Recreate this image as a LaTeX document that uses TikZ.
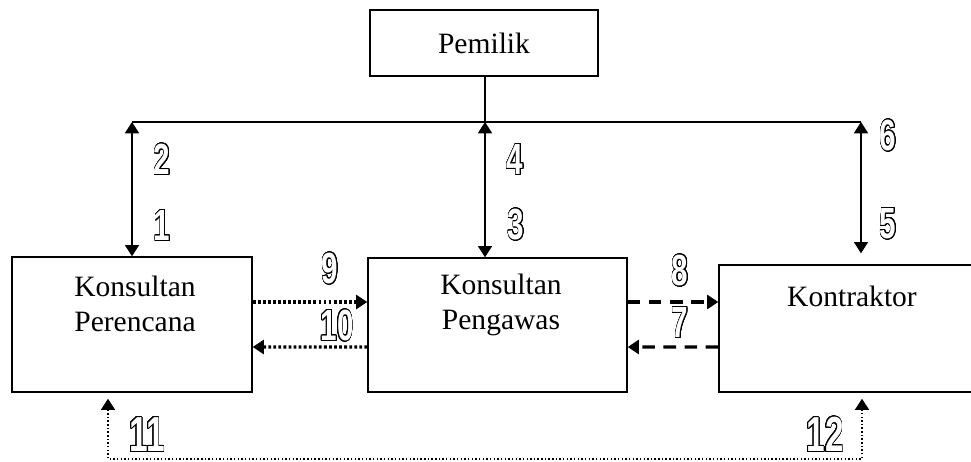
\documentclass[tikz,border=0pt]{standalone}
\usepackage{fontspec}
\setmainfont{Liberation Serif}
\newfontfamily\numfont{Liberation Sans}
\usepackage[copies]{contour}
\contourlength{0.75pt}
\contournumber{24}
\usetikzlibrary{arrows.meta,positioning,calc}

\begin{document}
\begin{tikzpicture}[x=0.025cm, y=-0.025cm, every node/.style={font=\fontsize{21}{25}\selectfont}]
\tikzset{box/.style={draw, line width=1pt, inner sep=0pt}}
\tikzset{num/.style={text=white, font=\numfont\bfseries\fontsize{31}{31}\selectfont, xscale=0.68}}
\tikzset{bignum/.style={num, font=\numfont\bfseries\fontsize{35}{35}\selectfont}}
\tikzset{wire/.style={line width=1pt}}
\tikzset{dbl/.style={wire, {Triangle[width=10pt,length=8pt]}-{Triangle[width=10pt,length=8pt]}}}
\tikzset{dotline/.style={line width=2.2pt, dash pattern=on 2pt off 1.6pt, -{Triangle[width=10pt,length=8pt]}}}
\tikzset{dashline/.style={line width=2.4pt, dash pattern=on 9pt off 6pt, -{Triangle[width=10pt,length=8pt]}}}
\tikzset{fineline/.style={line width=1.3pt, dash pattern=on 1pt off 1.6pt, {Triangle[width=10pt,length=8pt]}-{Triangle[width=10pt,length=8pt]}}}
\useasboundingbox (0,0) rectangle (971,461);
% boxes
\node[box, minimum width=5.7cm, minimum height=1.65cm] (pm) at (484,43) {Pemilik};
\node[box, minimum width=6.0cm, minimum height=3.375cm] (per) at (132,324.5) {};
\node[box, minimum width=6.475cm, minimum height=3.35cm] (pen) at (497.5,325) {};
\node[box, minimum width=6.65cm, minimum height=3.175cm] (kon) at (852,328.5) {};
\node[align=center] (perT) at (135,304) {Konsultan\\Perencana};
\node[align=center] (penT) at (501,305) {Konsultan\\Pengawas};
\node (konT) at (852,296) {Kontraktor};
% top lines
\coordinate (jl) at (132,122);
\coordinate (jm) at (485,122);
\coordinate (jr) at (861,122);
\draw[wire] (jm |- pm.south) -- (jm);
\draw[wire] (jl) -- (jr);
\draw[dbl] (jl) -- (jl |- per.north);
\draw[dbl] (jm) -- (jm |- pen.north);
\draw[dbl, shorten >=11*0.025cm] (jr) -- (jr |- kon.north);
% side arrows
\draw[dotline] ($(per.east)+(0,-22.5)$) -- ($(pen.west)+(0,-23)$);
\draw[dotline] ($(pen.west)+(0,22)$) -- ($(per.east)+(0,22.5)$);
\draw[dashline] ($(pen.east)+(0,-23)$) -- ($(kon.west)+(0,-26.5)$);
\draw[dashline] ($(kon.west)+(0,18.5)$) -- ($(pen.east)+(0,22)$);
% bottom loop
\coordinate (bl) at (108,459);
\coordinate (br) at (862,459);
\draw[fineline] ($(bl |- per.south)+(0,6)$) -- (bl) -- (br) -- ($(br |- kon.south)+(0,6)$);
% numbers
\node[num] (n1) at (162,226) {\contour{black}{1}};
\node[num] (n2) at (162,160) {\contour{black}{2}};
\node[num] (n3) at (516,225) {\contour{black}{3}};
\node[num] (n4) at (515,160) {\contour{black}{4}};
\node[num] (n5) at (888,224) {\contour{black}{5}};
\node[num] (n6) at (888,136) {\contour{black}{6}};
\node[num] (n7) at (680,323) {\contour{black}{7}};
\node[num] (n8) at (680,271) {\contour{black}{8}};
\node[num] (n9) at (330,269) {\contour{black}{9}};
\node[num] (n10) at (337,326) {\contour{black}{10}};
\node[bignum] (n11) at (147,435) {\contour{black}{11}};
\node[bignum] (n12) at (825,435) {\contour{black}{12}};
\end{tikzpicture}
\end{document}
